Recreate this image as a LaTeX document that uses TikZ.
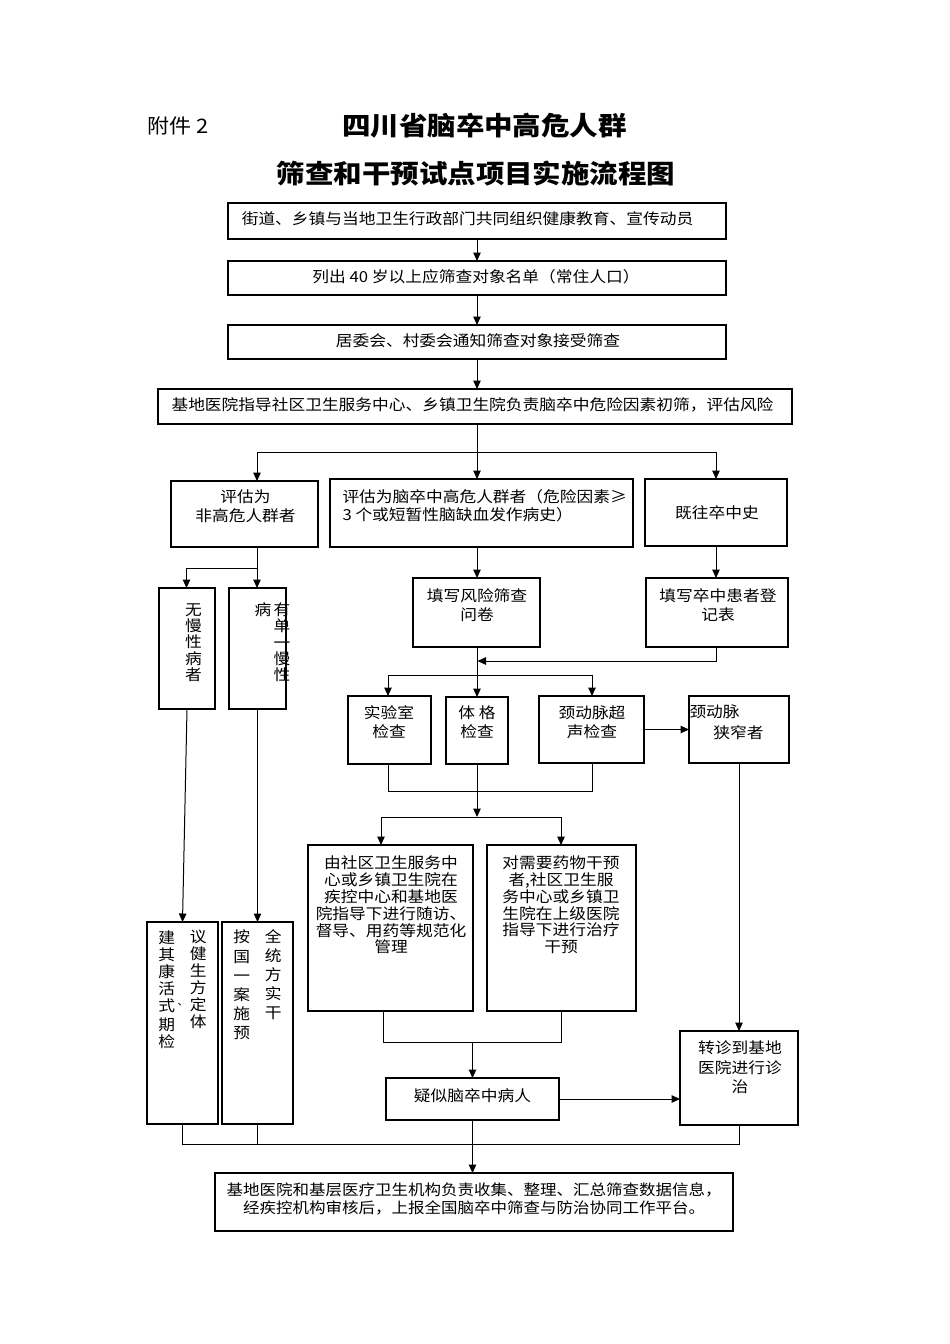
\documentclass[tikz,border=0pt]{standalone}
\usepackage{fontspec}
\newfontfamily\cjk[FakeStretch=1.1]{Noto Sans CJK SC}
\usetikzlibrary{arrows.meta,calc}
\tikzset{
  box/.style={draw=black, line width=1.1pt, rectangle, inner sep=0pt, outer sep=0pt},
  txt/.style={inner sep=0pt, outer sep=0pt, align=center, font=\cjk\fontsize{15.2}{#1}\selectfont},
  txt/.default=19,
  ln/.style={line width=1pt, draw=black},
  arr/.style={line width=1pt, draw=black, -{Triangle[length=8.5pt,width=7.5pt]}},
}
\newcommand{\bx}[5]{\node[box, minimum width={#4-#2}, minimum height={#5-#3}] (#1) at ({(#2+#4)/2},{(#3+#5)/2}) {};}
\begin{document}
\begin{tikzpicture}[x=1pt,y=-1pt]
\useasboundingbox[fill=white] (0,0) rectangle (950,1344);
% titles
\node[inner sep=0pt, font=\cjk\fontsize{20}{22}\selectfont] (tA) at (178,126) {附件 2};
\node[inner sep=0pt, font=\cjk\bfseries\fontsize{25.9}{28}\selectfont] (tB) at (484.5,126) {四川省脑卒中高危人群};
\node[inner sep=0pt, font=\cjk\bfseries\fontsize{25.9}{28}\selectfont] (tC) at (476,174) {筛查和干预试点项目实施流程图};
% boxes
\bx{b1}{228}{203}{726}{239}
\bx{b2}{228}{261}{726}{295}
\bx{b3}{228}{325}{726}{359}
\bx{b4}{158}{389}{792}{424}
\bx{n1}{171}{481}{318}{547}
\bx{n2}{330}{479}{633}{547}
\bx{n3}{645}{479}{787}{546}
\bx{q1}{413}{578}{540}{647}
\bx{q2}{646}{578}{788}{647}
\bx{e1}{348}{696}{431}{764}
\bx{e2}{446}{697}{508}{764}
\bx{e3}{539}{696}{644}{763}
\bx{e4}{689}{696}{789}{763}
\bx{v1}{159}{588}{215}{709}
\bx{v2}{229}{588}{286}{709}
\bx{m1}{308}{845}{473}{1011}
\bx{m2}{487}{845}{636}{1011}
\bx{w1}{147}{922}{218}{1124}
\bx{w2}{222}{922}{293}{1124}
\bx{s1}{386}{1078}{559}{1120}
\bx{t1}{680}{1031}{798}{1125}
\bx{f1}{215}{1173}{733}{1231}
% texts
\node[txt] (T1) at (467.5,219) {街道、乡镇与当地卫生行政部门共同组织健康教育、宣传动员};
\node[txt] (T2) at (476,277) {列出 40 岁以上应筛查对象名单（常住人口）};
\node[txt] (T3) at (478,341) {居委会、村委会通知筛查对象接受筛查};
\node[txt] (T4) at (472.5,405) {基地医院指导社区卫生服务中心、乡镇卫生院负责脑卒中危险因素初筛，评估风险};
\node[txt=19] (N1) at (245.5,506.5) {评估为\\非高危人群者};
\node[txt=17.5, align=left, anchor=west] (N2) at (342.5,505.5) {评估为脑卒中高危人群者（危险因素≥\\3 个或短暂性脑缺血发作病史）};
\node[txt] (N3) at (717,513) {既往卒中史};
\node[txt=19] (Q1) at (477,605.5) {填写风险筛查\\问卷};
\node[txt=19] (Q2) at (718,605.5) {填写卒中患者登\\记表};
\node[txt=19] (E1) at (389,722.5) {实验室\\检查};
\node[txt=19] (E2) at (477,722.5) {体 格\\检查};
\node[txt=19] (E3) at (592,722.5) {颈动脉超\\声检查};
\node[txt, anchor=west] (E4a) at (689.5,712) {颈动脉};
\node[txt] (E4b) at (738.5,733) {狭窄者};
\node[txt=16.3] (V1) at (193.5,642.5) {无\\慢\\性\\病\\者};
\node[txt=16.3] (V2) at (282,642.5) {有\\单\\一\\慢\\性};
\node[txt] (V2b) at (263,610) {病};
\node[txt=16.8] (M1) at (391,905) {由社区卫生服务中\\心或乡镇卫生院在\\疾控中心和基地医\\院指导下进行随访、\\督导、用药等规范化\\管理};
\node[txt=16.8] (M2) at (561,905) {对需要药物干预\\者,社区卫生服\\务中心或乡镇卫\\生院在上级医院\\指导下进行治疗\\干预};
\node[txt=16.8] (W1a) at (166.7,989.7) {建\\其\\康\\活\\式\\[2.5pt]期\\检};
\node[inner sep=0pt, outer sep=0pt, font=\cjk\fontsize{10}{11}\selectfont] (W1c) at (183,1005) {、};
\node[txt=17] (W1b) at (198.3,979.5) {议\\健\\生\\方\\定\\体};
\node[txt=19.2] (W2a) at (241.7,985) {按\\国\\一\\案\\施\\预};
\node[txt=19] (W2b) at (273.3,975) {全\\统\\方\\实\\干};
\node[txt] (S1) at (472.5,1096) {疑似脑卒中病人};
\node[txt=19.5] (TT) at (740,1067.5) {转诊到基地\\医院进行诊\\治};
\node[inner sep=0pt, align=center, font=\cjk\fontsize{15}{18}\selectfont] (F1) at (474,1199) {基地医院和基层医疗卫生机构负责收集、整理、汇总筛查数据信息，\\经疾控机构审核后，上报全国脑卒中筛查与防治协同工作平台。};
% connectors
\draw[arr] (b1.south) -- (b2.north);
\draw[arr] (b2.south) -- (b3.north);
\draw[arr] (b3.south) -- (b3.south |- b4.north);
\coordinate (j1) at (477,452);
\coordinate (jL) at (257,452);
\coordinate (jR) at (716,452);
\draw[ln] (b3.south |- b4.south) -- (j1);
\draw[ln] (jL) -- (jR);
\draw[arr] (j1) -- (j1 |- n2.north);
\draw[arr] (jL) -- (jL |- n1.north);
\draw[arr] (jR) -- (jR |- n3.north);
\coordinate (c1) at (257,568);
\coordinate (c2) at (186.5,568);
\draw[ln] (c1 |- n1.south) -- (c1);
\draw[arr] (c1) -- (c1 |- v2.north);
\draw[ln] (c1) -- (c2);
\draw[arr] (c2) -- (c2 |- v1.north);
\draw[arr] (j1 |- n2.south) -- (j1 |- q1.north);
\draw[arr] (jR |- n3.south) -- (jR |- q2.north);
\coordinate (g1) at (477.5,661);
\draw[arr] (jR |- q2.south) |- (g1);
\draw[arr] (j1 |- q1.south) -- (j1 |- e2.north);
\coordinate (h1) at (388,675);
\coordinate (h2) at (592,675);
\draw[ln] (h1) -- (h2);
\draw[arr] (h1) -- (h1 |- e1.north);
\draw[arr] (h2) -- (h2 |- e3.north);
\draw[arr] (e3.east) -- (e3.east -| e4.west);
\coordinate (p2) at (592,791);
\draw[ln] (h1 |- e1.south) |- (p2) -- (h2 |- e3.south);
\coordinate (r0) at (477,817);
\coordinate (r1) at (381,817);
\coordinate (r2) at (561,817);
\draw[arr] (j1 |- e2.south) -- (r0);
\draw[ln] (r1) -- (r2);
\draw[arr] (r1) -- (r1 |- m1.north);
\draw[arr] (r2) -- (r2 |- m2.north);
\coordinate (u1) at (383,1042);
\coordinate (u2) at (561,1042);
\coordinate (u0) at (472.5,1042);
\draw[ln] (u1 |- m1.south) |- (u2) -- (u2 |- m2.south);
\draw[arr] (u0) -- (s1.north);
\draw[arr] (s1.east) -- (s1.east -| t1.west);
\draw[arr] (e4.south) -- (e4.south |- t1.north);
\draw[arr] (v1.south) -- (w1.north);
\draw[arr] (v2.south) -- (w2.north);
\coordinate (z1) at (183,1144);
\draw[ln] (w1.south) -- (w1.south |- z1) -- (t1.south |- z1) -- (t1.south);
\draw[ln] (w2.south) -- (w2.south |- z1);
\draw[arr] (s1.south) -- (s1.south |- f1.north);
\end{tikzpicture}
\end{document}
